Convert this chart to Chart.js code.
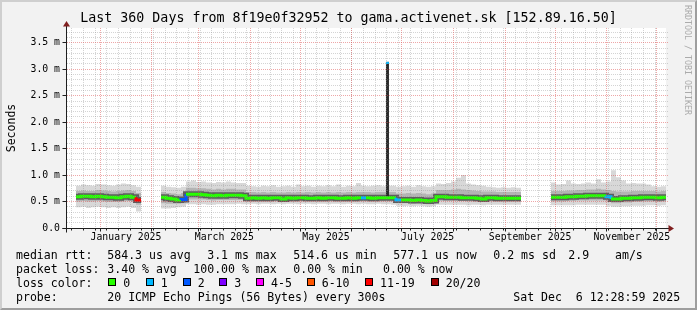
<!DOCTYPE html>
<html><head><meta charset="utf-8">
<script src="https://cdn.jsdelivr.net/npm/chart.js@4.4.1/dist/chart.umd.min.js"></script>
<style>
html,body{margin:0;padding:0;background:#fff;}
#wrap{position:relative;width:697px;height:310px;background:#f2f2f2;overflow:hidden;}
#wrap:after{content:'';position:absolute;left:0;top:0;right:0;bottom:0;border-style:solid;border-width:2px;border-color:#cfcfcf #9e9e9e #9e9e9e #cfcfcf;pointer-events:none;}
canvas{position:absolute;left:0;top:0;}
.t{position:absolute;font-family:'DejaVu Sans Mono',monospace;font-size:11.55px;line-height:14px;white-space:pre;color:#000;}
.box{position:absolute;width:6px;height:6px;border:1px solid #000;}
#wm{position:absolute;left:682.5px;top:5px;writing-mode:vertical-rl;font-family:'DejaVu Sans Mono',monospace;font-size:8.3px;line-height:10px;color:#ababab;white-space:pre;}
</style></head>
<body>
<div id="wrap">
<canvas id="c" width="697" height="310"></canvas>
<div id="wm">RRDTOOL / TOBI OETIKER</div>
<span class="t" style="left:16px;top:247.7px">median rtt:</span>
<span class="t" style="left:107.3px;top:247.7px">584.3 us avg</span>
<span class="t" style="left:207.2px;top:247.7px">3.1 ms max</span>
<span class="t" style="left:293.3px;top:247.7px">514.6 us min</span>
<span class="t" style="left:393.3px;top:247.7px">577.1 us now</span>
<span class="t" style="left:493.3px;top:247.7px">0.2 ms sd</span>
<span class="t" style="left:568.3px;top:247.7px">2.9</span>
<span class="t" style="left:615px;top:247.7px">am/s</span>
<span class="t" style="left:16px;top:261.7px">packet loss:</span>
<span class="t" style="left:107.3px;top:261.7px">3.40 % avg</span>
<span class="t" style="left:193.3px;top:261.7px">100.00 % max</span>
<span class="t" style="left:293.3px;top:261.7px">0.00 % min</span>
<span class="t" style="left:383px;top:261.7px">0.00 % now</span>
<span class="t" style="left:16px;top:275.5px">loss color:</span>
<span class="t" style="left:16px;top:289.7px">probe:</span>
<span class="t" style="left:107.3px;top:289.7px">20 ICMP Echo Pings (56 Bytes) every 300s</span>
<span class="t" style="left:513.3px;top:289.7px">Sat Dec  6 12:28:59 2025</span>
</div>
<script>
// ---- data (days since 2025-01-01, 3-day buckets, values in ms) ----
const START = -20.48, END = 339.52, BUCKET = 3;
const medianRtt = [
null,null,0.59,0.60,0.60,0.59,0.60,0.59,0.58,0.58,
0.57,0.59,0.60,0.58,0.53,null,null,null,null,0.58,
0.56,0.55,0.53,0.54,0.64,0.64,0.64,0.63,0.62,0.61,
0.62,0.61,0.62,0.62,0.62,0.61,0.56,0.57,0.56,0.57,
0.56,0.57,0.57,0.55,0.57,0.56,0.57,0.57,0.56,0.56,
0.57,0.56,0.57,0.57,0.56,0.56,0.57,0.56,0.57,0.57,
0.57,0.56,0.57,0.57,0.57,0.57,0.53,0.53,0.53,0.52,
0.53,0.52,0.51,0.52,0.59,0.59,0.58,0.58,0.58,0.57,
0.57,0.57,0.56,0.55,0.57,0.57,0.56,0.56,0.56,0.56,
0.56,null,null,null,null,null,null,0.58,0.58,0.58,
0.59,0.59,0.60,0.60,0.61,0.61,0.61,0.61,0.59,0.55,
0.55,0.56,0.56,0.57,0.57,0.58,0.58,0.58,0.57,0.58];
const smokeMin = [
null,null,0.39,0.40,0.38,0.39,0.40,0.39,0.38,0.39,
0.38,0.39,0.40,0.38,0.31,null,null,null,null,0.37,
0.37,0.38,0.39,0.40,0.45,0.45,0.44,0.45,0.44,0.44,
0.45,0.45,0.45,0.45,0.46,0.45,0.45,0.46,0.45,0.46,
0.46,0.45,0.46,0.45,0.46,0.46,0.45,0.46,0.46,0.45,
0.46,0.46,0.45,0.46,0.46,0.45,0.46,0.46,0.45,0.46,
0.45,0.45,0.46,0.45,0.45,0.44,0.42,0.41,0.42,0.41,
0.42,0.41,0.40,0.41,0.44,0.44,0.44,0.44,0.44,0.44,
0.43,0.44,0.44,0.43,0.44,0.44,0.44,0.44,0.44,0.44,
0.44,null,null,null,null,null,null,0.43,0.43,0.43,
0.43,0.43,0.44,0.44,0.44,0.44,0.44,0.44,0.42,0.40,
0.40,0.41,0.41,0.42,0.42,0.42,0.43,0.43,0.42,0.43];
const smokeLow = [
null,null,0.50,0.51,0.50,0.50,0.51,0.50,0.49,0.49,
0.49,0.50,0.51,0.49,0.44,null,null,null,null,0.47,
0.46,0.46,0.46,0.47,0.54,0.54,0.54,0.54,0.53,0.52,
0.53,0.53,0.53,0.53,0.53,0.53,0.50,0.50,0.50,0.50,
0.50,0.50,0.50,0.49,0.50,0.50,0.50,0.50,0.50,0.50,
0.50,0.50,0.50,0.50,0.50,0.50,0.50,0.50,0.50,0.50,
0.50,0.50,0.50,0.50,0.50,0.50,0.47,0.47,0.47,0.46,
0.47,0.46,0.45,0.46,0.51,0.51,0.51,0.51,0.51,0.51,
0.50,0.50,0.50,0.49,0.50,0.50,0.50,0.50,0.50,0.50,
0.50,null,null,null,null,null,null,0.50,0.50,0.50,
0.51,0.51,0.52,0.52,0.52,0.52,0.52,0.52,0.50,0.47,
0.47,0.48,0.48,0.49,0.49,0.50,0.50,0.50,0.49,0.50];
const smokeHigh = [
null,null,0.70,0.71,0.70,0.70,0.72,0.71,0.70,0.69,
0.70,0.71,0.72,0.70,0.66,null,null,null,null,0.68,
0.66,0.65,0.64,0.66,0.76,0.76,0.75,0.75,0.74,0.73,
0.74,0.73,0.74,0.74,0.73,0.73,0.68,0.68,0.67,0.68,
0.67,0.68,0.67,0.67,0.68,0.67,0.68,0.67,0.68,0.67,
0.68,0.67,0.68,0.67,0.68,0.67,0.68,0.67,0.68,0.68,
0.68,0.67,0.68,0.68,0.68,0.68,0.65,0.65,0.66,0.65,
0.66,0.65,0.64,0.65,0.72,0.72,0.72,0.73,0.74,0.73,
0.72,0.71,0.70,0.69,0.69,0.69,0.68,0.68,0.68,0.68,
0.68,null,null,null,null,null,null,0.70,0.70,0.70,
0.71,0.71,0.72,0.72,0.73,0.73,0.74,0.73,0.72,0.70,
0.69,0.69,0.69,0.70,0.70,0.70,0.70,0.70,0.69,0.70];
const smokeMax = [
null,null,0.80,0.82,0.81,0.80,0.83,0.82,0.81,0.80,
0.82,0.84,0.83,0.81,0.78,null,null,null,null,0.80,
0.78,0.77,0.76,0.78,0.88,0.90,0.87,0.88,0.86,0.85,
0.87,0.86,0.88,0.86,0.85,0.85,0.80,0.79,0.78,0.80,
0.79,0.81,0.78,0.79,0.80,0.78,0.82,0.79,0.80,0.78,
0.80,0.79,0.81,0.79,0.82,0.78,0.80,0.79,0.85,0.80,
0.79,0.80,0.81,0.79,0.80,0.80,0.78,0.79,0.80,0.78,
0.81,0.79,0.78,0.79,0.84,0.83,0.85,0.88,0.95,1.00,
0.84,0.82,0.81,0.80,0.78,0.77,0.76,0.77,0.76,0.77,
0.76,null,null,null,null,null,null,0.86,0.82,0.83,
0.90,0.84,0.83,0.84,0.86,0.84,0.92,0.86,0.88,1.09,
0.96,0.90,0.84,0.85,0.84,0.84,0.82,0.79,0.78,0.79];
const lossBuckets = [14, 23, 59, 66, 108];
const lossClasses = [6, 2, 1, 1, 1];
const spikeDay = 172.4, spikeLow = 0.57, spikeHigh = 3.14, spikeMedian = 3.10, spikeLoss = 1;
const lossLabels = ['0','1','2','3','4-5','6-10','11-19','20/20'];
const lossColors = ['#26ff00','#00b8ff','#0059ff','#7e00ff','#ff00ff','#ff5500','#ff0000','#a00000'];
const monthStarts = [-31,0,31,59,90,120,151,181,212,243,273,304,334];
const xLabels = ['January 2025','March 2025','May 2025','July 2025','September 2025','November 2025'];
const xLabelMonths = [1,3,5,7,9,11];
const yTicks = [0,0.5,1.0,1.5,2.0,2.5,3.0,3.5];
const Y_MAX = 3.78;
const WEEK_START = -17;

// ---- legend layout ----
const boxX = [108.3,145.7,182.7,219.3,256,306.7,365,430.7];
const wrap = document.getElementById('wrap');
lossLabels.forEach((lab,i)=>{
  const b=document.createElement('div'); b.className='box';
  b.style.left=boxX[i]+'px'; b.style.top='278px'; b.style.background=lossColors[i]; wrap.appendChild(b);
  const s=document.createElement('span'); s.className='t'; s.textContent=lab;
  s.style.left=(boxX[i]+15)+'px'; s.style.top='275.5px'; wrap.appendChild(s);
});

// ---- build datasets ----
const lossOf = k => { const i=lossBuckets.indexOf(k); return i<0?0:lossClasses[i]; };
function steps(vals){
  const out=[];
  vals.forEach((v,k)=>{
    const s=START+k*BUCKET;
    if(v===null){ out.push({x:s+BUCKET/2,y:null,k}); return; }
    out.push({x:s,y:v,k}); out.push({x:s+BUCKET,y:v,k});
  });
  return out;
}
const xLabelDays = xLabelMonths.map(i=>(monthStarts[i]+monthStarts[i+1])/2);
const NONE='rgba(0,0,0,0)';
const base = {pointRadius:0,pointHoverRadius:0,tension:0,spanGaps:false,borderCapStyle:'butt',borderJoinStyle:'miter'};

const MINOR='rgba(143,143,143,0.38)', MAJOR='rgba(222,79,79,0.5)', AXIS='#1f1f1f', ARROW='#801f1f';
function hline(ctx,x0,x1,y){ctx.beginPath();ctx.moveTo(x0,y);ctx.lineTo(x1,y);ctx.stroke();}
function vline(ctx,x,y0,y1){ctx.beginPath();ctx.moveTo(x,y0);ctx.lineTo(x,y1);ctx.stroke();}
const rrdPlugin={
  id:'rrd',
  beforeDraw(ch){const {ctx,chartArea:a}=ch;ctx.save();ctx.fillStyle='#fff';ctx.fillRect(a.left,a.top,a.right-a.left,a.bottom-a.top);ctx.restore();},
  afterDatasetsDraw(ch){
    const {ctx,chartArea:a,scales}=ch; const x=scales.x,y=scales.y;
    ctx.save(); ctx.lineWidth=1; ctx.setLineDash([1,1]);
    ctx.strokeStyle=MINOR;
    for(let i=1;i<=Math.floor(Y_MAX*10);i++){ if(i%5===0) continue; const py=Math.floor(y.getPixelForValue(i/10))+0.5; hline(ctx,a.left+1,a.right+2,py); }
    for(let d=WEEK_START; d<=END; d+=7){ const px=Math.floor(x.getPixelForValue(d))+0.5; vline(ctx,px,a.top,a.bottom); }
    ctx.strokeStyle=MAJOR;
    yTicks.forEach(v=>{ if(v===0) return; const py=Math.floor(y.getPixelForValue(v))+0.5; hline(ctx,a.left+1,a.right+2,py); });
    monthStarts.forEach(d=>{ if(d<START||d>END) return; const px=Math.floor(x.getPixelForValue(d))+0.5; vline(ctx,px,a.top,a.bottom); });
    ctx.restore();
  },
  afterDraw(ch){
    const {ctx,chartArea:a,scales}=ch; const x=scales.x,y=scales.y;
    ctx.save(); ctx.lineWidth=1; ctx.strokeStyle=AXIS;
    const by=Math.floor(a.bottom)+0.5, lx=Math.floor(a.left)+0.5;
    yTicks.forEach(v=>{ const py=Math.floor(y.getPixelForValue(v))+0.5; hline(ctx,lx-4,lx,py); });
    for(let d=WEEK_START; d<=END; d+=7){ const px=Math.floor(x.getPixelForValue(d))+0.5; vline(ctx,px,by,by+2); }
    monthStarts.forEach(d=>{ if(d<START||d>END) return; const px=Math.floor(x.getPixelForValue(d))+0.5; vline(ctx,px,by,by+3); });
    hline(ctx,lx-4,a.right+3,by);
    vline(ctx,lx,by+4,a.top-2);
    ctx.fillStyle=ARROW;
    ctx.beginPath(); ctx.moveTo(a.right+2.5,by-3.5); ctx.lineTo(a.right+8,by); ctx.lineTo(a.right+2.5,by+3.5); ctx.closePath(); ctx.fill();
    ctx.beginPath(); ctx.moveTo(lx-3.5,a.top-1.5); ctx.lineTo(lx,a.top-7); ctx.lineTo(lx+3.5,a.top-1.5); ctx.closePath(); ctx.fill();
    ctx.restore();
  }
};

Chart.defaults.font.family="'DejaVu Sans Mono', monospace";
Chart.defaults.color='#000';
new Chart(document.getElementById('c'),{
  type:'line',
  data:{datasets:[
    {...base,data:steps(smokeMin),borderColor:NONE,borderWidth:1,fill:false,order:10},
    {...base,data:steps(smokeMax),borderColor:NONE,borderWidth:1,fill:'-1',backgroundColor:'#d8d8d8',order:10},
    {...base,data:steps(smokeLow),borderColor:NONE,borderWidth:1,fill:false,order:9},
    {...base,data:steps(smokeHigh),borderColor:NONE,borderWidth:1,fill:'-1',backgroundColor:'#b4b4b4',order:9},
    {...base,data:steps(medianRtt),borderColor:'#5e5e5e',borderWidth:6,fill:false,order:8},
    {...base,data:[{x:spikeDay,y:spikeLow},{x:spikeDay,y:spikeHigh}],borderColor:'#2b2b2b',borderWidth:3,fill:false,order:7},
    {...base,data:steps(medianRtt),borderWidth:3,fill:false,order:6,borderColor:lossColors[0],
      segment:{borderColor:c=>{const d=c.chart.data.datasets[c.datasetIndex].data;const p=d[c.p0DataIndex],q=d[c.p1DataIndex];const la=lossOf(p.k),lb=lossOf(q.k);return lossColors[p.k===q.k?la:Math.max(la,lb)];}}},
    {...base,data:[{x:spikeDay,y:spikeMedian},{x:spikeDay,y:spikeHigh}],borderColor:lossColors[spikeLoss],borderWidth:3,fill:false,order:5}
  ]},
  options:{
    responsive:false,animation:false,devicePixelRatio:1,events:[],
    layout:{padding:0},
    plugins:{legend:{display:false},tooltip:{enabled:false},
      title:{display:true,text:'Last 360 Days from 8f19e0f32952 to gama.activenet.sk [152.89.16.50]',
        font:{size:13.3,weight:'normal',lineHeight:1},color:'#000',padding:{top:12,bottom:2.7}}},
    scales:{
      x:{type:'linear',position:'bottom',min:START,max:END,
        grid:{display:false,drawTicks:false},border:{display:false},
        ticks:{font:{size:9.8},color:'#000',padding:4,maxRotation:0,minRotation:0,autoSkip:false,
          callback:(v,i)=>xLabels[i]},
        afterBuildTicks:s=>{s.ticks=xLabelDays.map(v=>({value:v}));},
        afterFit:s=>{s.height=82;}},
      y:{type:'linear',position:'left',min:0,max:Y_MAX,
        grid:{display:false,drawTicks:false},border:{display:false},
        ticks:{font:{size:9.8},color:'#000',padding:6,callback:v=>v===0?'0.0':v.toFixed(1)+' m'},
        afterBuildTicks:s=>{s.ticks=yTicks.map(v=>({value:v}));},
        title:{display:true,text:'Seconds',font:{size:11.5,lineHeight:1},color:'#000',padding:{top:6,bottom:0}},
        afterFit:s=>{s.width=66;}},
      yR:{type:'linear',position:'right',display:true,
        grid:{display:false,drawTicks:false},border:{display:false},ticks:{display:false},
        afterFit:s=>{s.width=31;}}
    }
  },
  plugins:[rrdPlugin]
});
</script>
</body></html>
